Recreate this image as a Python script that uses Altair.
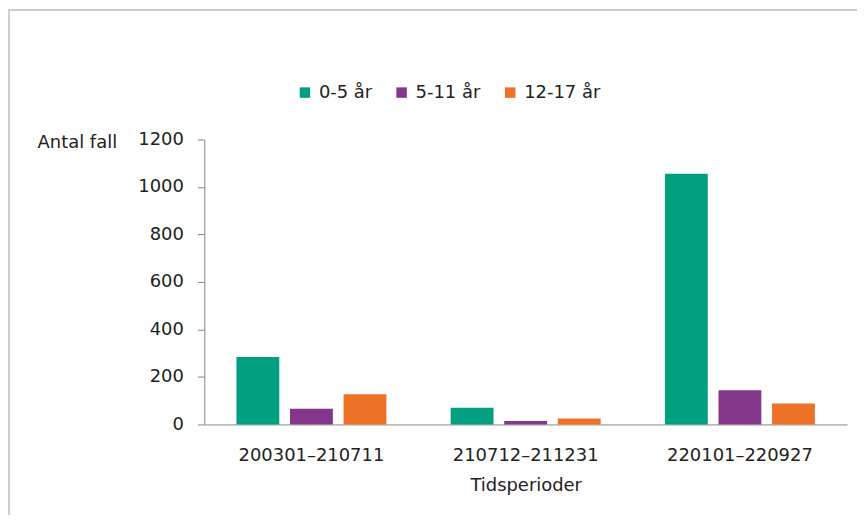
import altair as alt
import pandas as pd

periods = ["200301\u2013210711", "210712\u2013211231", "220101\u2013220927"]
groups = ["0-5 år", "5-11 år", "12-17 år"]
v_0_5 = [284, 70, 1055]
v_5_11 = [66, 14, 144]
v_12_17 = [127, 25, 88]
colors = ["#009F80", "#84368B", "#EE7128"]

rows = []
for g, vals in zip(groups, [v_0_5, v_5_11, v_12_17]):
    for p, v in zip(periods, vals):
        rows.append({"period": p, "group": g, "value": v})
df = pd.DataFrame(rows)

FONT = "DejaVu Sans"

bars = alt.Chart(df).mark_bar().encode(
    x=alt.X("period:N", sort=periods,
            scale=alt.Scale(paddingInner=0.3, paddingOuter=0.15),
            axis=alt.Axis(title="Tidsperioder", labelAngle=0, ticks=False,
                          labelPadding=22, titlePadding=12, domainColor="#888888",
                          labelFontSize=18, titleFontSize=18, labelColor="#222222",
                          titleColor="#222222", titleFontWeight="normal",
                          labelFont=FONT, titleFont=FONT)),
    xOffset=alt.XOffset("group:N", sort=groups,
                        scale=alt.Scale(paddingInner=0.2, paddingOuter=0)),
    y=alt.Y("value:Q", scale=alt.Scale(domain=[0, 1200]),
            axis=alt.Axis(title="Antal fall", values=list(range(0, 1201, 200)),
                          format="d",
                          grid=False, tickSize=7, tickColor="#888888",
                          domainColor="#888888", labelPadding=14,
                          labelFontSize=18, titleFontSize=18, labelColor="#222222",
                          titleColor="#222222", titleFontWeight="normal",
                          titleAngle=0, titleAlign="right", titleBaseline="middle",
                          titleX=-88, titleY=3,
                          labelFont=FONT, titleFont=FONT)),
    color=alt.Color("group:N", sort=groups,
                    scale=alt.Scale(domain=groups, range=colors),
                    legend=alt.Legend(title=None, orient="none", direction="horizontal",
                                      legendX=92, legendY=-56,
                                      symbolType="square", symbolSize=110,
                                      symbolStrokeWidth=0, labelFontSize=18,
                                      labelFont=FONT, labelColor="#222222",
                                      labelOffset=5, columnPadding=20)),
)

frame = alt.Chart(pd.DataFrame({"a": [0]})).mark_rect(
    fill=None, stroke="#cccccc", strokeWidth=2
).encode(
    x=alt.value(-196), x2=alt.value(700), y=alt.value(-130), y2=alt.value(420)
)

chart = alt.layer(frame, bars).properties(
    width=645, height=286,
    autosize=alt.AutoSizeParams(type="none"),
    padding={"left": 197, "top": 131, "right": 10, "bottom": 90},
).configure_view(stroke=None)

chart.save("out.html", embed_options={"renderer": "svg", "actions": False})
